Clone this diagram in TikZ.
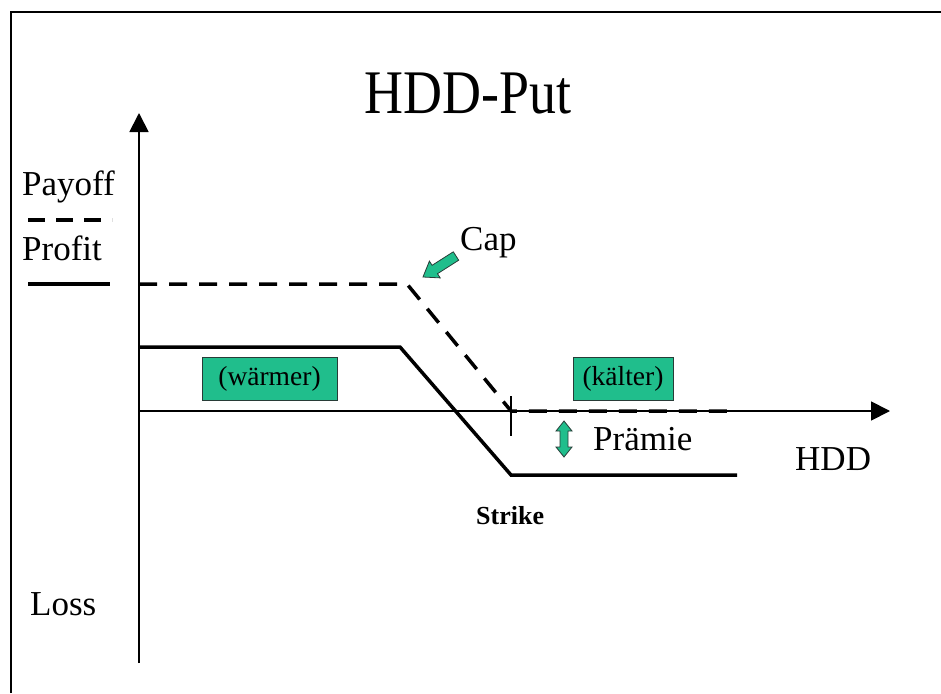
\documentclass[tikz,border=0pt]{standalone}
\usepackage{fontspec}
\setmainfont{Liberation Serif}
\usetikzlibrary{arrows.meta}
\definecolor{boxgreen}{RGB}{32,190,140}
\definecolor{edgegray}{RGB}{40,60,55}
\begin{document}
\begin{tikzpicture}[x=1pt,y=-1pt,
  axisline/.style={line width=1.8pt,-{Triangle[length=19pt,width=19pt]}},
  profitline/.style={line width=3.5pt},
  payoffline/.style={line width=3.5pt,dash pattern=on 18pt off 12pt},
  label/.style={font=\fontsize{35}{40}\selectfont,anchor=base west,inner sep=0pt},
  greenbox/.style={draw=edgegray,line width=1pt,fill=boxgreen,inner sep=0pt,font=\fontsize{27.5}{30}\selectfont},
  blockarrow/.style={draw=edgegray,line width=0.8pt,fill=boxgreen,line join=miter}]
\useasboundingbox (0,0) rectangle (941,693);
% frame
\draw[line width=1.5pt] (11,693) -- (11,12) -- (941,12);
% title
\node[anchor=base,inner sep=0pt,font=\fontsize{62}{66}\selectfont] (title) at (468,113) {\scalebox{0.87}[1]{HDD-Put}};
% axes
\coordinate (o) at (139,411);
\coordinate (ytop) at (139,113);
\coordinate (ybot) at (139,663);
\coordinate (xend) at (890,411);
\draw[axisline] (ybot) -- (ytop);
\draw[axisline] (o) -- (xend);
% profit line
\coordinate (p0) at (139,347);
\coordinate (p1) at (400,347);
\coordinate (p2) at (511,475);
\coordinate (p3) at (737,475);
\draw[profitline] (p0) -- (p1) -- (p2) -- (p3);
% payoff line
\coordinate (q0) at (139,284);
\coordinate (q1) at (407,284);
\coordinate (q2) at (511,411);
\coordinate (q3) at (737,411);
\draw[payoffline] (q0) -- (q1) -- (q2) -- (q3);
% strike tick
\coordinate (s0) at (511,396);
\coordinate (s1) at (511,436);
\draw[line width=1.5pt] (s0) -- (s1);
% legend
\node[label] (payoff) at (22,195) {Payoff};
\coordinate (l0) at (28,220);
\coordinate (l1) at (112,220);
\draw[payoffline,dash pattern=on 17pt off 11pt] (l0) -- (l1);
\node[label] (profit) at (22,260) {Profit};
\coordinate (m0) at (28,284);
\coordinate (m1) at (110,284);
\draw[profitline] (m0) -- (m1);
\node[label] (loss) at (30,615) {Loss};
% boxes
\node[greenbox,minimum width=135,minimum height=43] (warm) at (269.5,378.5) {(wärmer)};
\node[greenbox,minimum width=100,minimum height=43] (cold) at (623,378.5) {(kälter)};
% labels
\node[label] (cap) at (460,250) {Cap};
\node[label] (praemie) at (593,450) {Prämie};
\node[label] (hdd) at (795,470) {HDD};
\node[anchor=base west,inner sep=0pt,font=\fontsize{26}{30}\selectfont\bfseries] (strike) at (476,524) {Strike};
% cap arrow
\draw[blockarrow] (423,277) -- (440.2,277.9) -- (437.5,273.7) -- (458.7,260.2) -- (453.3,251.8) -- (432.1,265.3) -- (429.4,261.1) -- cycle;
% premium double arrow
\draw[blockarrow] (564,421) -- (572,431) -- (568,431) -- (568,447) -- (572,447) -- (564,457) -- (556,447) -- (560,447) -- (560,431) -- (556,431) -- cycle;
\end{tikzpicture}
\end{document}
